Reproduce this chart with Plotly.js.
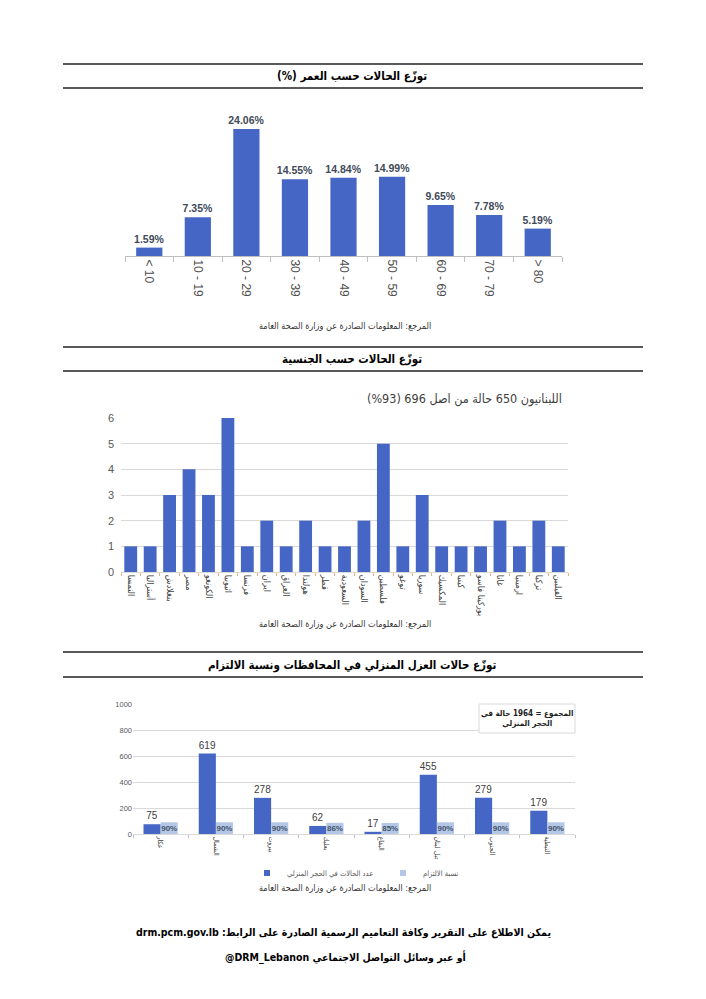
<!DOCTYPE html>
<html><head><meta charset="utf-8">
<script src="https://cdn.plot.ly/plotly-3.0.1.min.js"></script>
<style>html,body{margin:0;padding:0;background:#fff;}#chart{width:706px;height:999px;}</style>
</head><body><div id="chart"></div>
<script>
// ---- Data ----
const ageGroups = ['< 10','10 - 19','20 - 29','30 - 39','40 - 49','50 - 59','60 - 69','70 - 79','> 80'];
const agePercent = [1.59,7.35,24.06,14.55,14.84,14.99,9.65,7.78,5.19];

const nationalities = ['النمسا','أستراليا','بنغلادش','مصر','الكونغو','اثيوبيا','فرنسا','ايران','العراق','هولندا','قطر','السعودية','السودان','فلسطين','توغو','سوريا','المكسيك','كينيا','بوركينا فاسو','غانا','ارمينيا','تركيا','الفيلبين'];
const nationalityCases = [1,1,3,4,3,6,1,2,1,2,1,1,2,5,1,3,1,1,1,2,1,2,1];

const governorates = ['عكار','الشمال','بيروت','بعلبك','البقاع','جبل لبنان','الجنوب','النبطية'];
const homeIsolation = [75,619,278,62,17,455,279,179];
const compliance = [90,90,90,86,85,90,90,90];

const titles = ['توزّع الحالات حسب العمر (%)','توزّع الحالات حسب الجنسية','توزّع حالات العزل المنزلي في المحافظات ونسبة الالتزام'];
const sourceText = 'المرجع: المعلومات الصادرة عن وزارة الصحة العامة';
const lebaneseNote = 'اللبنانيون 650 حالة من اصل 696 (93%)';
const totalNote = ['المجموع = 1964 حالة في','الحجر المنزلي'];
const legendNames = ['عدد الحالات في الحجر المنزلي','نسبة الالتزام'];
const footer1 = 'يمكن الاطلاع على التقرير وكافة التعاميم الرسمية الصادرة على الرابط: drm.pcm.gov.lb';
const footer2 = 'أو عبر وسائل التواصل الاجتماعي \u200E@DRM_Lebanon';

// ---- Helpers ----
const W = 706, H = 999;
const px = x => x / W;
const py = y => 1 - y / H;
const rtl = s => '\u202B' + s + '\u202C';
const FONT = "Arial, 'Liberation Sans', 'DejaVu Sans', sans-serif";
const AFONT = "'DejaVu Sans Condensed', 'DejaVu Sans', sans-serif";
const BLUE = '#4566C4';
const LIGHT = '#B4C7E7';

const traces = [
  {type:'bar', x:ageGroups, y:agePercent, xaxis:'x', yaxis:'y', width:0.54,
   marker:{color:BLUE}, texttemplate:'%{y:.2f}%', textposition:'outside', cliponaxis:false,
   constraintext:'none',
   textfont:{size:10.5, color:'#3F4A5A', family:FONT, weight:'bold'}, showlegend:false},
  {type:'bar', x:nationalities, y:nationalityCases, xaxis:'x2', yaxis:'y2', width:0.66,
   marker:{color:BLUE}, showlegend:false},
  {type:'bar', x:governorates, y:homeIsolation, xaxis:'x3', yaxis:'y3', name:rtl(legendNames[0]),
   marker:{color:BLUE}, text:homeIsolation.map(String), textposition:'outside', cliponaxis:false,
   constraintext:'none', showlegend:false,
   textfont:{size:10, color:'#404040', family:FONT}},
  {type:'bar', x:governorates, y:compliance, xaxis:'x3', yaxis:'y3', name:rtl(legendNames[1]),
   marker:{color:LIGHT}, texttemplate:'%{y}%', textposition:'inside', insidetextanchor:'middle',
   constraintext:'none', textangle:0, showlegend:false,
   textfont:{size:8, color:'#44546A', family:FONT, weight:'bold'}},
  // legend entries (small square keys like the source)
  {type:'scatter', mode:'markers', x:[null], y:[null], xaxis:'x3', yaxis:'y3', name:rtl(legendNames[0]),
   marker:{symbol:'square', size:6, color:BLUE}},
  {type:'scatter', mode:'markers', x:[null], y:[null], xaxis:'x3', yaxis:'y3', name:rtl(legendNames[1]),
   marker:{symbol:'square', size:6, color:LIGHT}}
];

const shapes = [64, 88, 347, 371, 652, 677].map(y => ({
  type:'line', xref:'paper', yref:'paper', x0:px(63), x1:px(643), y0:py(y), y1:py(y),
  line:{color:'#222', width:1.4}
}));
shapes.push({type:'rect', xref:'paper', yref:'paper', x0:px(479), x1:px(575), y0:py(704), y1:py(733),
  line:{color:'#d9d9d9', width:1}, fillcolor:'#fff', layer:'above'});

const ann = (text, x, y, opts={}) => Object.assign({
  text, xref:'paper', yref:'paper', x:px(x), y:py(y), showarrow:false,
  xanchor:'center', yanchor:'middle', font:{family:AFONT, size:9, color:'#333'}
}, opts);

const titleFont = {family:AFONT, size:11.5, color:'#000', weight:'bold'};
const footFont = {family:AFONT, size:10.5, color:'#000', weight:'bold'};
const annotations = [
  ann(rtl(titles[0]), 352, 76, {font:titleFont}),
  ann(rtl(titles[1]), 352, 359, {font:titleFont}),
  ann(rtl(titles[2]), 352, 665, {font:titleFont}),
  ann(rtl(sourceText), 345, 326),
  ann(rtl(sourceText), 345, 624),
  ann(rtl(sourceText), 345, 888),
  ann(rtl(lebaneseNote), 564, 399, {xanchor:'right', font:{family:AFONT, size:12.5, color:'#404040'}}),
  ann(totalNote.map(rtl).join('<br>'), 527, 718, {font:{family:AFONT, size:8, color:'#222', weight:'bold'}, align:'center'}),
  ann(rtl(footer1), 343, 932, {font:footFont}),
  ann(rtl(footer2), 345, 957, {font:footFont})
];

const layout = {
  width:W, height:H, margin:{l:0, r:0, t:0, b:0},
  paper_bgcolor:'#fff', plot_bgcolor:'rgba(0,0,0,0)',
  font:{family:FONT, color:'#404040'},
  barmode:'group', bargap:0.38, bargroupgap:0,
  showlegend:true,
  legend:{orientation:'h', x:px(247), xanchor:'left', y:py(873), yanchor:'middle',
    font:{size:7.5, color:'#595959', family:AFONT}, entrywidth:91, itemwidth:30},
  xaxis:{domain:[px(125), px(562)], anchor:'y', type:'category', tickangle:90,
    showline:true, linecolor:'#bfbfbf', ticks:'outside', tickson:'boundaries', ticklen:5, tickcolor:'#bfbfbf',
    tickfont:{size:12, color:'#505050'}, showgrid:false},
  yaxis:{domain:[py(256), py(110)], anchor:'x', range:[0,27.65], visible:false, showgrid:false, zeroline:false},
  xaxis2:{domain:[px(121), px(568)], anchor:'y2', type:'category', tickangle:90,
    showline:true, linecolor:'#d9d9d9', ticks:'outside', tickson:'boundaries', ticklen:3, tickcolor:'#f4b183',
    tickfont:{size:9, color:'#404040', family:AFONT}, showgrid:false},
  yaxis2:{domain:[py(572), py(418)], anchor:'x2', range:[0,6], dtick:1, showgrid:true, gridcolor:'#d9d9d9',
    zeroline:false, showline:false, tickfont:{size:11, color:'#595959'}, ticks:'', ticklabelstandoff:6},
  xaxis3:{domain:[px(133), px(575)], anchor:'y3', type:'category', tickangle:90,
    showline:true, linecolor:'#d9d9d9', ticks:'outside', tickson:'boundaries', ticklen:3, tickcolor:'#bfbfbf',
    tickfont:{size:7, color:'#404040', family:AFONT}, showgrid:false},
  yaxis3:{domain:[py(834), py(704)], anchor:'x3', range:[0,1000], dtick:200, showgrid:true, gridcolor:'#d9d9d9',
    zeroline:false, showline:false, tickfont:{size:7.5, color:'#595959'}, ticks:''},
  shapes, annotations
};

Plotly.newPlot('chart', traces, layout, {displayModeBar:false, staticPlot:true});
</script>
</body></html>
